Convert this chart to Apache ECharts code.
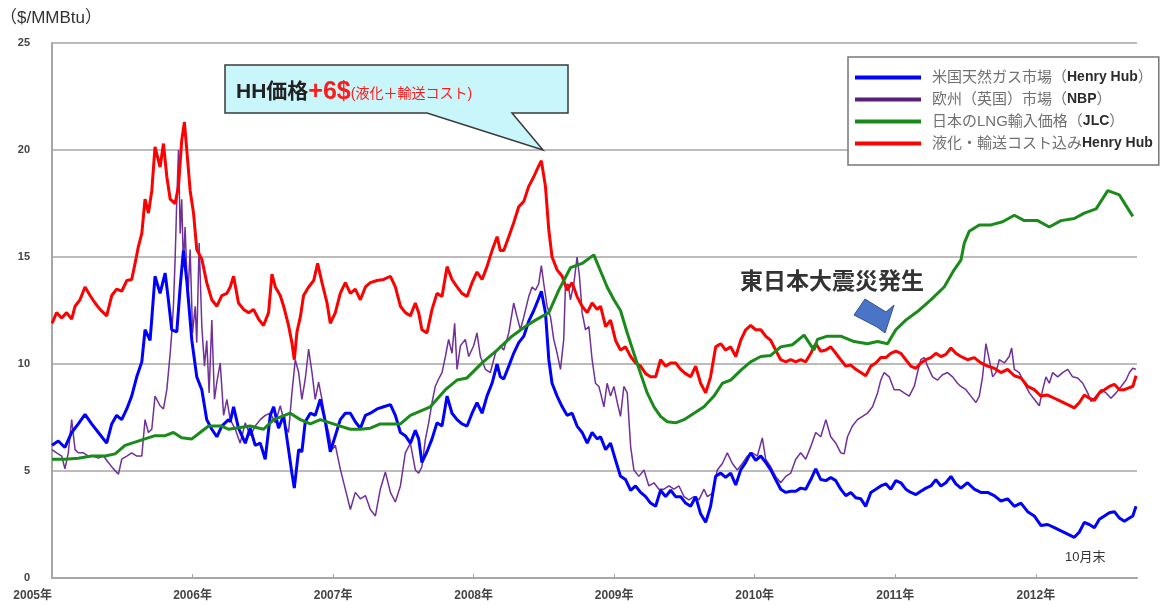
<!DOCTYPE html>
<html><head><meta charset="utf-8">
<script src="https://cdn.jsdelivr.net/npm/echarts@6/dist/echarts.min.js"></script>
<style>html,body{margin:0;padding:0;background:#fff}#c{width:1160px;height:606px}</style>
</head><body><div id="c"></div>
<script>
const FONT = '"Liberation Sans","Noto Sans CJK JP",sans-serif';

const seriesNames = ['米国天然ガス市場（Henry Hub）', '欧州（英国）市場（NBP）', '日本のLNG輸入価格（JLC）', '液化・輸送コスト込みHenry Hub'];
const yearLabels = [2005, 2006, 2007, 2008, 2009, 2010, 2011, 2012];

// Henry Hub ($/MMBtu)
const hhYears = [2005.000,2005.045,2005.092,2005.140,2005.187,2005.235,2005.282,2005.330,2005.389,2005.425,2005.460,2005.496,2005.532,2005.567,2005.603,2005.639,2005.662,2005.698,2005.733,2005.769,2005.805,2005.828,2005.852,2005.888,2005.912,2005.935,2005.959,2005.995,2006.030,2006.066,2006.101,2006.137,2006.173,2006.208,2006.256,
2006.268,2006.292,2006.327,2006.375,2006.410,2006.446,2006.482,2006.517,2006.553,2006.577,2006.612,2006.648,2006.683,2006.707,2006.724,2006.755,2006.778,2006.802,2006.838,2006.873,2006.909,2006.945,2006.980,2007.016,2007.051,2007.087,2007.123,2007.158,2007.194,2007.230,2007.265,2007.313,2007.360,2007.408,2007.443,2007.479,2007.514,2007.550,
2007.585,2007.609,2007.632,2007.668,2007.704,2007.739,2007.775,2007.811,2007.846,2007.882,2007.917,2007.953,2007.989,2008.024,2008.060,2008.095,2008.131,2008.167,2008.190,2008.214,2008.250,2008.285,2008.321,2008.357,2008.392,2008.428,2008.459,2008.482,2008.511,2008.535,2008.558,2008.594,2008.630,2008.665,2008.701,2008.736,2008.772,2008.808,2008.843,2008.879,
2008.903,2008.939,2008.974,2009.010,2009.045,2009.081,2009.117,2009.152,2009.188,2009.224,2009.259,2009.295,2009.330,2009.366,2009.402,2009.437,2009.473,2009.508,2009.544,2009.580,2009.615,2009.651,2009.686,2009.722,2009.758,2009.793,2009.829,2009.865,2009.900,2009.936,2009.971,2010.007,2010.043,2010.078,2010.114,2010.149,
2010.185,2010.221,2010.256,2010.292,2010.327,2010.363,2010.399,2010.434,2010.470,2010.506,2010.541,2010.577,2010.612,2010.648,2010.684,2010.719,2010.755,2010.790,2010.826,2010.862,2010.897,2010.933,2010.968,2011.004,2011.040,2011.075,2011.111,2011.147,2011.182,2011.218,2011.253,2011.289,2011.325,2011.360,2011.396,2011.431,
2011.467,2011.514,2011.562,2011.609,2011.657,2011.704,2011.752,2011.799,2011.847,2011.894,2011.942,2011.989,2012.037,2012.084,2012.132,2012.179,2012.227,2012.274,2012.310,2012.345,2012.381,2012.417,2012.452,2012.488,2012.523,2012.559,2012.595,2012.630,2012.666,2012.690,2012.713];
const hhValues = [6.2,6.4,6.1,6.8,7.2,7.65,7.2,6.8,6.3,7.2,7.6,7.4,7.9,8.5,9.4,10.1,11.6,11.1,14.1,13.3,14.25,13.0,11.6,11.5,13.6,15.3,13.9,11.1,9.4,8.8,7.4,6.95,6.6,7.1,7.4,
7.3,8.0,7.0,6.3,7.0,6.2,6.3,5.55,7.6,8.0,7.0,7.6,6.0,4.9,4.2,6.0,5.9,7.3,7.7,7.6,8.35,7.3,5.9,6.65,7.4,7.7,7.7,7.3,7.0,7.6,7.7,7.9,8.0,8.1,7.6,6.8,6.65,6.3,
6.9,6.5,5.4,5.9,6.5,7.25,7.1,8.5,7.7,7.4,7.2,7.1,7.7,8.2,7.7,8.5,9.1,10.0,9.4,9.3,9.9,10.5,11.0,11.3,12.0,12.5,13.0,13.4,12.4,10.2,9.1,8.5,8.0,7.6,7.7,7.1,6.8,6.3,6.8,6.5,
6.6,6.0,6.3,5.5,4.75,4.6,4.1,4.3,4.0,3.8,3.5,3.35,4.1,3.8,4.1,3.8,3.8,3.5,3.35,3.8,3.0,2.6,3.35,4.75,4.9,4.7,4.9,4.35,5.05,5.4,5.85,5.5,5.7,5.4,5.05,4.6,
4.15,4.0,4.05,4.05,4.2,4.15,4.6,5.1,4.6,4.55,4.7,4.55,4.15,3.85,4.0,3.75,3.7,3.35,4.0,4.15,4.3,4.4,4.15,4.55,4.45,4.15,4.0,3.9,4.05,4.2,4.3,4.6,4.3,4.45,4.75,4.4,
4.2,4.45,4.15,4.0,4.0,3.85,3.6,3.7,3.35,3.5,3.1,2.9,2.45,2.5,2.35,2.2,2.05,1.9,2.15,2.6,2.5,2.35,2.75,2.9,3.05,3.1,2.8,2.65,2.8,2.9,3.35];

// NBP ($/MMBtu)
const nbpYears = [2005.000,2005.033,2005.069,2005.092,2005.116,2005.140,2005.164,2005.187,2005.223,2005.259,2005.294,2005.330,2005.366,2005.401,2005.437,2005.473,2005.496,2005.532,2005.567,2005.603,2005.639,2005.662,2005.686,2005.710,2005.733,2005.769,2005.793,2005.817,2005.841,2005.852,2005.864,2005.876,2005.888,2005.900,2005.912,2005.923,2005.935,2005.947,2005.966,2005.983,2006.000,2006.019,2006.030,2006.047,2006.066,2006.085,2006.101,2006.118,2006.137,2006.156,2006.173,2006.197,2006.221,2006.244,
2006.268,2006.304,2006.339,2006.375,2006.410,2006.446,2006.482,2006.517,2006.553,2006.589,2006.624,2006.660,2006.683,2006.707,2006.731,2006.755,2006.778,2006.802,2006.826,2006.850,2006.873,2006.897,2006.921,2006.945,2006.968,2006.992,2007.016,2007.051,2007.087,2007.123,2007.158,2007.194,2007.230,2007.265,2007.301,2007.336,2007.372,2007.408,2007.443,2007.479,2007.514,2007.550,
2007.585,2007.609,2007.632,2007.656,2007.680,2007.704,2007.727,2007.751,2007.775,2007.799,2007.822,2007.846,2007.865,2007.882,2007.906,2007.941,2007.965,2008.000,2008.024,2008.048,2008.084,2008.119,2008.155,2008.190,2008.214,2008.250,2008.285,2008.309,2008.333,2008.357,2008.392,2008.416,2008.440,2008.463,2008.482,2008.499,2008.523,2008.547,2008.570,2008.594,2008.618,2008.641,2008.653,2008.672,2008.689,2008.713,2008.736,2008.753,2008.772,2008.796,2008.820,2008.843,2008.867,2008.891,
2008.903,2008.927,2008.950,2008.974,2008.998,2009.022,2009.045,2009.069,2009.093,2009.117,2009.140,2009.176,2009.212,2009.247,2009.283,2009.318,2009.354,2009.390,2009.425,2009.461,2009.497,2009.532,2009.568,2009.603,2009.639,2009.663,2009.698,2009.734,2009.770,2009.805,2009.841,2009.876,2009.912,2009.948,2009.983,2010.019,2010.054,2010.078,2010.114,2010.149,
2010.185,2010.221,2010.256,2010.292,2010.327,2010.363,2010.399,2010.434,2010.470,2010.506,2010.541,2010.577,2010.612,2010.636,2010.660,2010.695,2010.731,2010.767,2010.802,2010.838,2010.874,2010.897,2010.921,2010.957,2010.992,2011.028,2011.063,2011.099,2011.135,2011.158,2011.182,2011.206,2011.230,2011.265,2011.301,2011.336,2011.372,2011.408,2011.443,
2011.467,2011.503,2011.538,2011.574,2011.598,2011.621,2011.645,2011.669,2011.693,2011.716,2011.740,2011.776,2011.811,2011.828,2011.847,2011.882,2011.918,2011.954,2011.989,2012.025,2012.049,2012.072,2012.096,2012.120,2012.156,2012.191,2012.227,2012.262,2012.298,2012.334,2012.369,2012.393,2012.429,2012.464,2012.500,2012.535,2012.571,2012.607,2012.642,2012.666,2012.690,2012.713];
const nbpValues = [6.0,5.85,5.7,5.1,5.85,7.4,6.0,5.85,5.85,5.7,5.7,5.6,5.7,5.4,5.1,4.85,5.55,5.7,5.85,5.7,5.7,7.4,6.8,6.95,8.5,8.05,7.9,8.8,10.5,11.45,12.7,14.9,17.7,20.0,16.1,17.7,14.55,16.4,13.0,15.35,11.45,12.7,11.0,15.65,11.75,9.9,11.1,8.65,12.05,8.35,9.15,10.05,7.6,8.35,
7.4,6.95,6.3,7.25,6.65,7.1,7.4,7.6,7.7,7.25,8.05,7.1,6.8,8.65,10.2,9.6,8.35,9.3,10.7,9.6,8.35,9.15,8.35,7.4,6.8,6.0,6.2,5.1,4.15,3.2,4.0,3.7,3.85,3.2,2.9,4.15,4.95,4.0,3.55,4.3,5.85,6.3,
5.05,4.9,5.2,6.45,7.25,8.2,8.95,9.3,9.6,10.35,11.15,10.5,11.9,9.75,10.85,11.15,10.35,10.85,11.45,10.35,9.75,9.6,10.5,10.85,10.65,11.45,12.85,12.2,11.6,12.2,13.15,13.6,13.45,13.75,14.6,13.75,12.7,12.2,11.15,10.5,9.75,11.15,13.6,13.75,13.0,13.75,15.0,14.1,12.4,11.6,11.75,10.2,9.1,8.95,
8.65,8.0,9.1,8.5,8.95,8.2,7.55,8.95,8.65,6.15,5.05,4.75,5.05,4.3,4.45,4.15,4.15,4.3,4.15,4.3,3.8,3.65,3.8,3.65,4.15,3.8,3.95,5.05,5.35,5.85,5.35,5.05,5.35,5.7,5.85,5.7,6.55,5.55,5.2,4.75,
4.45,4.75,4.9,5.55,5.85,5.55,6.15,6.8,6.6,7.4,6.6,6.3,5.85,5.8,6.6,7.1,7.4,7.55,7.7,8.0,8.65,9.25,9.6,9.4,8.8,8.8,8.65,8.5,8.95,9.6,10.2,10.3,9.9,9.4,9.25,9.5,9.6,9.4,9.1,
8.95,8.8,8.5,8.2,8.5,9.4,10.95,10.2,9.4,9.6,10.2,10.05,10.35,10.75,9.75,9.6,9.1,8.65,8.35,8.05,8.8,9.4,9.1,9.6,9.4,9.6,9.75,9.4,9.35,9.1,8.65,8.25,8.5,8.8,8.65,8.4,8.65,8.95,9.25,9.6,9.8,9.75];

// Japan LNG import price (JLC)
const jlcYears = [2005.000,2005.092,2005.187,2005.282,2005.378,2005.449,2005.520,2005.591,2005.662,2005.733,2005.805,2005.864,2005.923,2005.995,2006.054,2006.114,2006.161,2006.208,2006.256,2006.410,2006.505,2006.577,2006.695,2006.767,2006.838,2006.909,2006.980,2007.051,2007.123,2007.194,2007.265,2007.336,2007.408,2007.479,2007.550,2007.692,2007.799,2007.882,2007.953,2008.060,2008.167,2008.273,2008.368,2008.440,2008.535,2008.606,2008.689,2008.772,2008.855,2008.950,2008.998,2009.045,2009.093,2009.140,2009.188,2009.235,2009.283,2009.330,2009.378,2009.437,2009.497,2009.568,2009.639,2009.710,2009.770,2009.829,2009.900,2009.971,2010.043,2010.114,2010.185,2010.268,2010.351,2010.422,2010.446,2010.517,2010.612,2010.707,2010.802,2010.874,2010.945,2011.004,2011.075,2011.158,2011.253,2011.348,2011.419,2011.467,2011.491,2011.526,2011.598,2011.681,2011.764,2011.847,2011.918,2012.013,2012.096,2012.179,2012.274,2012.345,2012.429,2012.512,2012.595,2012.642,2012.690];
const jlcValues = [5.55,5.55,5.6,5.7,5.7,5.8,6.2,6.35,6.5,6.65,6.65,6.8,6.55,6.5,6.8,7.1,7.1,7.1,6.95,7.1,6.95,7.4,7.7,7.4,7.2,7.4,7.25,7.1,6.95,6.95,7.0,7.2,7.2,7.2,7.6,8.0,8.8,9.25,9.35,10.05,10.65,11.3,11.75,12.05,12.4,13.45,14.5,14.7,15.1,13.6,13.0,12.5,11.45,10.5,9.55,8.65,8.0,7.55,7.3,7.25,7.4,7.7,8.0,8.5,9.1,9.25,9.7,10.1,10.35,10.4,10.8,10.9,11.35,10.65,11.15,11.3,11.3,11.05,10.95,11.05,10.95,11.6,12.05,12.45,13.0,13.6,14.4,14.85,15.65,16.2,16.5,16.5,16.65,16.95,16.7,16.7,16.4,16.7,16.8,17.05,17.25,18.1,17.9,17.4,16.9];

// Henry Hub incl. liquefaction + transport cost
const costYears = [2005.000,2005.033,2005.069,2005.104,2005.140,2005.164,2005.199,2005.235,2005.271,2005.306,2005.342,2005.389,2005.425,2005.460,2005.496,2005.532,2005.567,2005.591,2005.615,2005.639,2005.662,2005.686,2005.710,2005.733,2005.769,2005.793,2005.817,2005.841,2005.876,2005.900,2005.923,2005.942,2005.959,2005.983,2006.007,2006.030,2006.066,2006.101,2006.137,2006.173,2006.208,2006.244,
2006.268,2006.292,2006.327,2006.363,2006.399,2006.434,2006.470,2006.505,2006.541,2006.565,2006.589,2006.624,2006.648,2006.683,2006.707,2006.724,2006.743,2006.767,2006.790,2006.826,2006.862,2006.890,2006.921,2006.957,2006.980,2007.016,2007.051,2007.087,2007.123,2007.158,2007.194,2007.230,2007.265,2007.313,2007.360,2007.408,2007.443,2007.479,2007.514,2007.550,
2007.585,2007.609,2007.632,2007.668,2007.704,2007.739,2007.775,2007.811,2007.846,2007.882,2007.917,2007.953,2007.989,2008.024,2008.060,2008.095,2008.131,2008.167,2008.190,2008.214,2008.250,2008.285,2008.321,2008.357,2008.392,2008.428,2008.459,2008.482,2008.511,2008.535,2008.558,2008.594,2008.630,2008.665,2008.701,2008.736,2008.772,2008.808,2008.843,2008.879,
2008.903,2008.939,2008.974,2009.010,2009.045,2009.081,2009.117,2009.152,2009.188,2009.224,2009.259,2009.295,2009.330,2009.366,2009.402,2009.437,2009.473,2009.508,2009.544,2009.580,2009.615,2009.651,2009.686,2009.722,2009.758,2009.793,2009.829,2009.865,2009.900,2009.936,2009.971,2010.007,2010.043,2010.078,2010.114,2010.149,
2010.185,2010.221,2010.256,2010.292,2010.327,2010.363,2010.399,2010.434,2010.470,2010.506,2010.541,2010.577,2010.612,2010.648,2010.684,2010.719,2010.755,2010.790,2010.826,2010.862,2010.897,2010.933,2010.968,2011.004,2011.040,2011.075,2011.111,2011.147,2011.182,2011.218,2011.253,2011.289,2011.325,2011.360,2011.396,2011.431,
2011.467,2011.514,2011.562,2011.609,2011.657,2011.704,2011.752,2011.799,2011.847,2011.894,2011.942,2011.989,2012.037,2012.084,2012.132,2012.179,2012.227,2012.274,2012.310,2012.345,2012.381,2012.417,2012.452,2012.488,2012.523,2012.559,2012.595,2012.630,2012.666,2012.690,2012.713];
const costValues = [11.9,12.4,12.15,12.4,12.1,12.7,13.0,13.6,13.2,12.85,12.55,12.25,13.2,13.5,13.4,13.9,13.95,14.7,15.5,16.1,17.7,17.05,18.1,20.15,19.2,20.3,18.75,17.7,17.5,18.3,20.45,21.3,20.0,18.1,17.05,15.35,14.9,13.8,13.0,12.7,13.2,13.3,
13.6,14.1,12.85,12.55,12.4,12.55,12.1,11.8,12.4,14.2,13.6,13.2,12.7,11.8,11.0,10.2,11.5,12.2,13.2,13.6,13.9,14.7,13.8,12.85,11.9,12.4,13.3,13.8,13.3,13.5,13.0,13.6,13.8,13.9,13.95,14.1,13.6,12.7,12.4,12.25,
12.85,12.4,11.6,11.45,12.55,13.3,13.15,14.55,13.95,13.6,13.3,13.15,13.8,14.3,13.95,14.55,15.3,15.95,15.3,15.3,15.95,16.6,17.35,17.6,18.3,18.75,19.2,19.5,18.3,16.25,15.0,14.4,14.1,13.45,13.8,13.15,12.7,12.4,12.85,12.55,
12.7,11.75,12.05,11.1,10.65,10.8,10.35,10.05,9.9,9.55,9.4,9.4,10.2,9.9,10.05,10.05,9.75,9.55,9.4,9.9,9.1,8.65,9.4,10.8,10.95,10.65,10.8,10.35,11.1,11.6,11.8,11.6,11.6,11.3,11.1,10.65,
10.2,10.1,10.2,10.1,10.2,10.1,10.5,10.95,10.6,10.65,10.8,10.5,10.2,9.9,9.95,9.75,9.6,9.45,9.9,10.05,10.3,10.3,10.5,10.6,10.5,10.2,9.9,9.8,10.05,10.2,10.3,10.5,10.35,10.45,10.75,10.5,
10.35,10.2,10.3,10.05,9.9,9.8,9.6,9.75,9.45,9.35,8.95,8.8,8.5,8.55,8.4,8.25,8.1,7.95,8.2,8.55,8.4,8.3,8.65,8.8,8.95,9.05,8.8,8.8,8.9,8.95,9.45];

const pair = (xs, ys) => xs.map((x, i) => [x, ys[i]]);

const legendText = {
  '米国天然ガス市場（Henry Hub）': '{a|米国天然ガス市場（}{b|Henry Hub}{a|）}',
  '欧州（英国）市場（NBP）': '{a|欧州（英国）市場（}{b|NBP}{a|）}',
  '日本のLNG輸入価格（JLC）': '{a|日本のLNG輸入価格（}{b|JLC}{a|）}',
  '液化・輸送コスト込みHenry Hub': '{a|液化・輸送コスト込み}{b|Henry Hub}'
};

const chart = echarts.init(document.getElementById('c'), null, {renderer: 'canvas'});
chart.setOption({
  animation: false,
  backgroundColor: '#ffffff',
  textStyle: {fontFamily: FONT},
  grid: {left: 52, right: 23, top: 43, bottom: 28, containLabel: false, outerBoundsMode: 'none'},
  xAxis: {
    type: 'value', min: 2005, max: 2012.72, interval: 1,
    axisLine: {show: true, lineStyle: {color: '#a6a6a6', width: 2}},
    axisTick: {show: true, inside: true, length: 4, lineStyle: {color: '#a6a6a6', width: 1}},
    splitLine: {show: false},
    axisLabel: {
      formatter: v => (yearLabels.indexOf(v) >= 0 ? v + '年' : ''),
      showMaxLabel: false, alignMinLabel: 'right',
      fontSize: 12, fontWeight: 'bold', color: '#444', margin: 12, fontFamily: FONT
    }
  },
  yAxis: {
    type: 'value', min: 0, max: 25, interval: 5,
    axisLine: {show: true, lineStyle: {color: '#a6a6a6', width: 2}},
    axisTick: {show: false},
    splitLine: {show: true, lineStyle: {color: '#a6a6a6', width: 1.5}},
    axisLabel: {fontSize: 11, fontWeight: 'bold', color: '#444', margin: 22, fontFamily: FONT}
  },
  legend: {
    data: seriesNames,
    orient: 'vertical', left: 848, top: 57,
    padding: [13, 6, 14, 7], itemGap: 7,
    itemWidth: 66, itemHeight: 4, icon: 'rect',
    backgroundColor: '#ffffff', borderColor: '#777', borderWidth: 1.5,
    formatter: n => legendText[n] || n,
    textStyle: {
      fontSize: 15, color: '#707070', padding: [0, 0, 0, 6], fontFamily: FONT,
      rich: {
        a: {fontSize: 15, color: '#707070', lineHeight: 17, fontFamily: FONT},
        b: {fontSize: 14, color: '#2b2b2b', fontWeight: 'bold', lineHeight: 17, fontFamily: FONT}
      }
    },
    selectedMode: false
  },
  series: [
    {name: seriesNames[0], type: 'line', data: pair(hhYears, hhValues), showSymbol: false, symbol: 'none',
      lineStyle: {color: '#0000ff', width: 3}, itemStyle: {color: '#0000ff'}, z: 3},
    {name: seriesNames[1], type: 'line', data: pair(nbpYears, nbpValues), showSymbol: false, symbol: 'none',
      lineStyle: {color: '#70309a', width: 1.5}, itemStyle: {color: '#5a1f7a'}, z: 2},
    {name: seriesNames[2], type: 'line', data: pair(jlcYears, jlcValues), showSymbol: false, symbol: 'none',
      lineStyle: {color: '#1a8a1a', width: 3}, itemStyle: {color: '#1a8a1a'}, z: 5},
    {name: seriesNames[3], type: 'line', data: pair(costYears, costValues), showSymbol: false, symbol: 'none',
      lineStyle: {color: '#ff0000', width: 3}, itemStyle: {color: '#ff0000'}, z: 4}
  ],
  graphic: [
    {type: 'text', left: 0, top: 10, z: 10,
      style: {text: '（$/MMBtu）', fontSize: 17, fill: '#333', fontFamily: FONT}},
    {type: 'polygon', z: 20,
      shape: {points: [[225, 65], [568, 65], [568, 113], [512, 113], [543, 150], [427, 113], [225, 113]]},
      style: {fill: '#c9f6fb', stroke: '#3a3a3a', lineWidth: 1.5}},
    {type: 'text', x: 236, y: 92, z: 21,
      style: {
        text: '{a|HH価格}{b|+6$}{c|(液化＋輸送コスト)}', verticalAlign: 'middle', fontFamily: FONT,
        rich: {
          a: {fontSize: 21, fontWeight: 'bold', fill: '#222', fontFamily: FONT},
          b: {fontSize: 25, fontWeight: 'bold', fill: '#ff1a1a', fontFamily: FONT},
          c: {fontSize: 14, fill: '#ff1a1a', fontFamily: FONT, padding: [4, 0, 0, 0]}
        }
      }},
    {type: 'text', x: 740, y: 283, z: 21,
      style: {text: '東日本大震災発生', fontSize: 23, fontWeight: 'bold', fill: '#333', verticalAlign: 'middle', fontFamily: FONT}},
    {type: 'polygon', z: 21,
      shape: {points: [[865, 299], [886, 312], [894, 305], [885, 333], [877, 327], [854, 315]]},
      style: {fill: '#4a74c6', stroke: '#2f528f', lineWidth: 1}},
    {type: 'text', x: 1065, y: 557, z: 21,
      style: {text: '10月末', fontSize: 13, fill: '#333', verticalAlign: 'middle', fontFamily: FONT}}
  ]
});
</script></body></html>
